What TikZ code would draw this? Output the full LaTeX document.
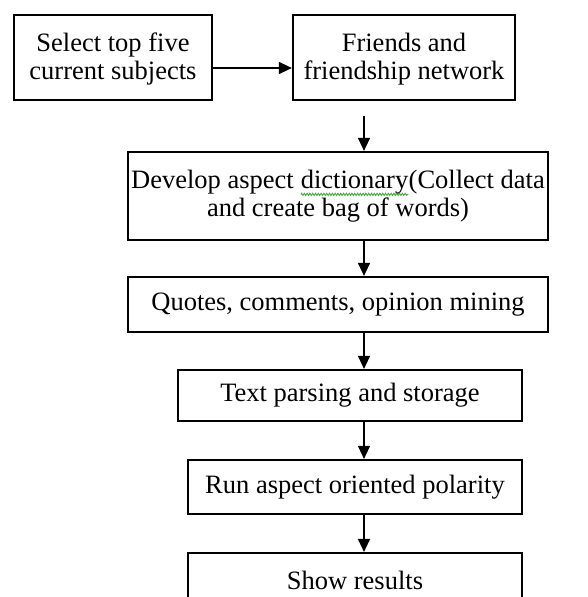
\documentclass[tikz,border=0pt]{standalone}
\usepackage{fontspec}
\setmainfont{Liberation Serif}
\usetikzlibrary{arrows.meta,decorations.pathmorphing}

\definecolor{spellgreen}{RGB}{70,170,60}

% green wavy underline under a word, as a spell checker marks it
\newcommand\spellmark[1]{\tikz[baseline=(sw.base)]{%
  \node[inner sep=0pt,outer sep=0pt,draw=none,
        minimum width=0pt,minimum height=0pt] (sw) {#1};
  \draw[draw=spellgreen,line width=0.9pt,decorate,
        decoration={zigzag,segment length=2.8pt,amplitude=1.1pt}]
    ([yshift=-0.3pt]sw.south west) -- ([yshift=-0.3pt]sw.south east);}}

\begin{document}
\begin{tikzpicture}[x=1pt,y=-1pt,
  box/.style={draw=black,line width=2.2pt,inner sep=0pt,align=center,
              font=\fontsize{26.5}{28}\selectfont},
  link/.style={draw=black,line width=1.4pt,-{Triangle[width=12pt,length=13pt]}}]
\useasboundingbox (0,0) rectangle (588,597);
\clip (0,0) rectangle (588,597);

% top row
\node[box,minimum width=198pt,minimum height=85pt] (b1) at (113,57.5)
  {\rule{0pt}{22pt}Select top five\\current subjects};
\node[box,minimum width=222pt,minimum height=85pt] (b2) at (404,57.5)
  {\rule{0pt}{22pt}Friends and\\friendship network};

% main column
\node[box,minimum width=420pt,minimum height=88pt] (b3) at (338,196)
  {Develop aspect \spellmark{dictionary}(Collect data\\and create bag of words)};
\node[box,minimum width=420pt,minimum height=55pt] (b4) at (338,304.5)
  {Quotes, comments, opinion mining};
\node[box,minimum width=344pt,minimum height=51pt] (b5) at (350,395.5)
  {Text parsing and storage};
\node[box,minimum width=334pt,minimum height=54pt] (b6) at (355,487)
  {Run aspect oriented polarity};
\node[box,minimum width=334pt,minimum height=55pt] (b7) at (355,580.5)
  {Show results};

% connectors
\coordinate (hy) at (0,68);
\coordinate (top) at (364,116);
\draw[link] (b1.east |- hy) -- (b2.west |- hy);
\draw[link] (top) -- (b3.north -| top);
\draw[link] (b3.south -| top) -- (b4.north -| top);
\draw[link] (b4.south -| top) -- (b5.north -| top);
\draw[link] (b5.south -| top) -- (b6.north -| top);
\draw[link] (b6.south -| top) -- (b7.north -| top);
\end{tikzpicture}
\end{document}
